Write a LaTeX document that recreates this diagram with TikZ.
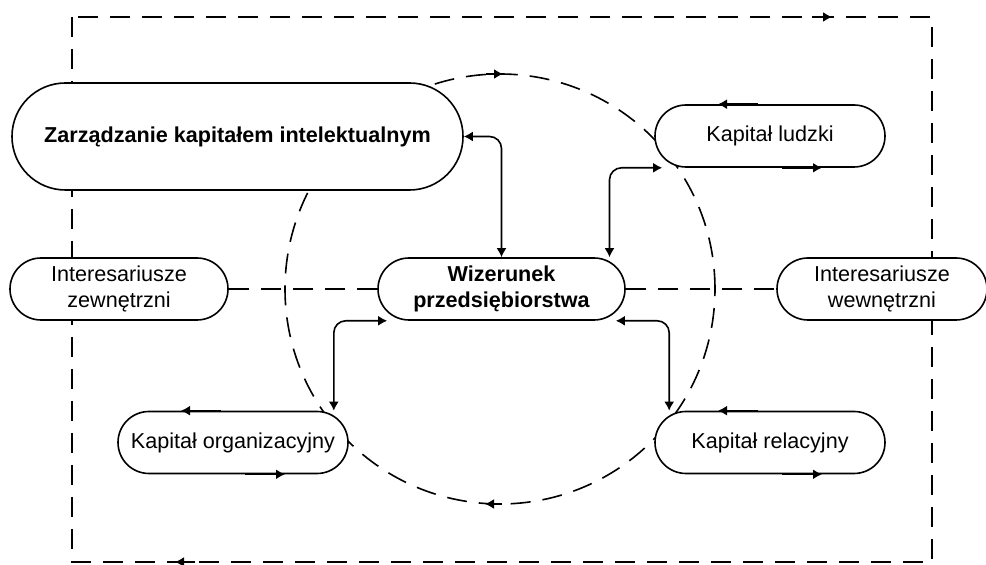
\documentclass[tikz,border=0pt]{standalone}
\usepackage{fontspec}
\setmainfont{Liberation Sans}
\usetikzlibrary{arrows.meta}
\begin{document}
\begin{tikzpicture}[x=0.5pt,y=-0.5pt,line width=0.8pt,
	box/.style={draw,fill=white,rounded corners=15.5pt,minimum width=115pt,
		minimum height=31pt,inner sep=0pt,align=center,
		font=\fontsize{10.8}{12.6}\selectfont},
	flow/.style={{Latex[length=4.5pt,width=5pt]}-{Latex[length=4.5pt,width=5pt]},rounded corners=6pt},
	ring/.style={dash pattern=on 10pt off 6pt},
	headmark/.style={-{Latex[length=4.5pt,width=5pt]}}]
	\useasboundingbox (0,0) rectangle (986,565);
	
	% dashed frame and circle
	\draw[ring] (72,17) rectangle (932,562);
	\draw[headmark] (812,17) -- (832,17);
	\draw[headmark] (195,562) -- (175,562);
	\draw[ring] (500,289) circle (107.5pt);
	\draw[headmark] (486,74) -- (503,74);
	\draw[headmark] (502,504) -- (485,504);
	
	\node[box,minimum width=225.5pt,minimum height=53.5pt,rounded corners=26.7pt,
		font=\fontsize{10.8}{12.6}\selectfont\bfseries] (zarz) at (237.5,136.5)
		{Zarządzanie kapitałem intelektualnym};
	\node[box,minimum width=123.5pt,font=\fontsize{10.8}{12.6}\selectfont\bfseries]
		(wiz) at (501.5,289) {Wizerunek\\przedsiębiorstwa};
	\node[box,minimum width=109pt] (zew) at (119,289) {Interesariusze\\zewnętrzni};
	\node[box,minimum width=105pt] (wew) at (882,289) {Interesariusze\\wewnętrzni};
	\node[box] (ludzki) at (770,136) {Kapitał ludzki};
	\node[box] (org) at (233,442.5) {Kapitał organizacyjny};
	\node[box] (rel) at (770,442.5) {Kapitał relacyjny};
	
	\draw[ring] (zew.east) -- (wiz.west);
	\draw[ring] (wiz.east) -- (wew.west);
	
	\draw[flow] (zarz.east) -| (wiz.north);
	\draw[flow] ([xshift=54pt]wiz.north) |- ([xshift=4pt]ludzki.south west);
	\draw[flow] ([xshift=-7.5pt]org.north east) |- ([xshift=5pt]wiz.south west);
	\draw[flow] ([xshift=-5pt]wiz.south east) -| ([xshift=7.5pt]rel.north west);
	
	% marks on the capital boxes
	\foreach \n in {ludzki,org,rel} {
		\draw[headmark] ([xshift=-6pt]\n.north) -- ([xshift=-26pt]\n.north);
		\draw[headmark] ([xshift=6pt]\n.south) -- ([xshift=26pt]\n.south);
	}
\end{tikzpicture}
\end{document}
